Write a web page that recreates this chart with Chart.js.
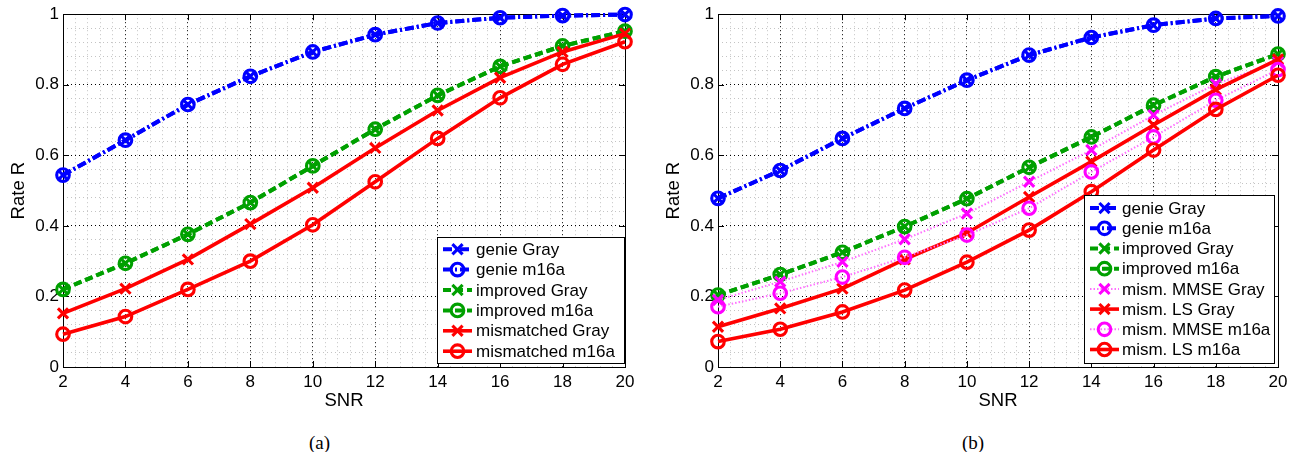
<!DOCTYPE html>
<html>
<head>
<meta charset="utf-8">
<script src="https://cdn.jsdelivr.net/npm/chart.js@4.4.0/dist/chart.umd.min.js"></script>
<style>
    body { margin: 0; background: #fff; width: 1294px; height: 452px; position: relative; overflow: hidden; }
    canvas { position: absolute; top: 0; }
    #chartA { left: 0; }
    #chartB { left: 655px; }
    .cap { position: absolute; top: 433px; font-family: "Liberation Serif", "Times New Roman", serif; font-size: 19px; line-height: 1; }
</style>
</head>
<body>
<canvas id="chartA" width="647" height="420"></canvas>
<canvas id="chartB" width="639" height="420"></canvas>
<div class="cap" style="left:309px">(a)</div>
<div class="cap" style="left:962px">(b)</div>

<script>
// ---- data ----
var snr = [2, 4, 6, 8, 10, 12, 14, 16, 18, 20];
var xTicks = [2, 4, 6, 8, 10, 12, 14, 16, 18, 20];
var xTickLabels = ["2", "4", "6", "8", "10", "12", "14", "16", "18", "20"];
var yTicks = [0, 0.2, 0.4, 0.6, 0.8, 1];
var yTickLabels = ["0", "0.2", "0.4", "0.6", "0.8", "1"];

// (a)
var genieGrayA = [0.544, 0.643, 0.744, 0.824, 0.893, 0.942, 0.975, 0.990, 0.996, 0.999];
var genieM16aA = [0.544, 0.643, 0.744, 0.824, 0.893, 0.942, 0.975, 0.990, 0.996, 0.999];
var improvedGrayA = [0.220, 0.294, 0.376, 0.466, 0.570, 0.674, 0.770, 0.852, 0.910, 0.952];
var improvedM16aA = [0.220, 0.294, 0.376, 0.466, 0.570, 0.674, 0.770, 0.852, 0.910, 0.952];
var mismatchedGrayA = [0.152, 0.222, 0.305, 0.405, 0.508, 0.621, 0.727, 0.820, 0.893, 0.945];
var mismatchedM16aA = [0.093, 0.143, 0.220, 0.300, 0.403, 0.525, 0.648, 0.763, 0.858, 0.922];

// (b)
var genieGrayB = [0.478, 0.557, 0.648, 0.733, 0.813, 0.884, 0.934, 0.969, 0.988, 0.995];
var genieM16aB = [0.478, 0.557, 0.648, 0.733, 0.813, 0.884, 0.934, 0.969, 0.988, 0.995];
var improvedGrayB = [0.204, 0.262, 0.325, 0.398, 0.477, 0.566, 0.652, 0.742, 0.823, 0.887];
var improvedM16aB = [0.204, 0.262, 0.325, 0.398, 0.477, 0.566, 0.652, 0.742, 0.823, 0.887];
var mmseGrayB = [0.190, 0.242, 0.298, 0.362, 0.435, 0.525, 0.615, 0.714, 0.802, 0.865];
var lsGrayB = [0.114, 0.166, 0.222, 0.305, 0.380, 0.482, 0.582, 0.686, 0.786, 0.872];
var mmseM16aB = [0.171, 0.209, 0.255, 0.311, 0.374, 0.450, 0.553, 0.652, 0.756, 0.843];
var lsM16aB = [0.072, 0.107, 0.156, 0.218, 0.297, 0.388, 0.497, 0.615, 0.730, 0.827];

var FONT = '"Liberation Sans", Arial, Helvetica, sans-serif';
Chart.defaults.font.family = FONT;
Chart.defaults.color = "#000";

// line styles (matlab-ish)
var BLUE = "#0000ff", GREEN = "#00a000", RED = "#ff0000", MAGENTA = "#ff00ff";
var styles = {
    genie:    { color: BLUE, line: BLUE, width: 4, dash: [9, 3, 2, 3] },
    improved: { color: GREEN, line: GREEN, width: 4, dash: [8, 4] },
    mism:     { color: RED, line: RED, width: 3.6, dash: [] },
    mmse:     { color: MAGENTA, line: "#ff70ff", width: 2, dash: [1.5, 2] }
};

function isAt(list, v) {
    for (var i = 0; i < list.length; i++) {
        if (Math.abs(list[i] - v) < 1e-6) return i;
    }
    return -1;
}

function makeSet(label, values, style, marker, i) {
    return {
        label: label,
        data: snr.map(function(x, k) { return { x: x, y: values[k] }; }),
        borderColor: style.line,
        borderWidth: style.width,
        borderDash: style.dash,
        pointStyle: marker === "o" ? "circle" : "crossRot",
        pointRadius: marker === "o" ? 6.3 : 7.2,
        pointBorderWidth: 3.1,
        pointBorderColor: style.color,
        pointBackgroundColor: "rgba(0,0,0,0)",
        markerColor: style.color,
        fill: false,
        tension: 0,
        clip: false,
        order: -i
    };
}

function drawMarker(ctx, ds, x, y) {
    var r = ds.pointRadius;
    ctx.save();
    ctx.setLineDash([]);
    ctx.strokeStyle = ds.markerColor;
    ctx.lineWidth = ds.pointBorderWidth;
    ctx.beginPath();
    if (ds.pointStyle === "circle") {
        ctx.arc(x, y, r, 0, Math.PI * 2);
    } else {
        var d = r * Math.SQRT1_2;
        ctx.moveTo(x - d, y - d); ctx.lineTo(x + d, y + d);
        ctx.moveTo(x + d, y - d); ctx.lineTo(x - d, y + d);
    }
    ctx.stroke();
    ctx.restore();
}

// box round the axes with inward ticks
var framePlugin = {
    id: "frame",
    beforeDatasetsDraw: function(chart) {
        var ctx = chart.ctx, a = chart.chartArea;
        var xs = chart.scales.x, ys = chart.scales.y;
        ctx.save();
        ctx.strokeStyle = "#000";
        ctx.lineWidth = 1;
        ctx.strokeRect(Math.round(a.left) + 0.5, Math.round(a.top) + 0.5,
            Math.round(a.right - a.left), Math.round(a.bottom - a.top));
        ctx.beginPath();
        xTicks.forEach(function(v) {
            var px = Math.round(xs.getPixelForValue(v)) + 0.5;
            ctx.moveTo(px, a.bottom); ctx.lineTo(px, a.bottom - 6);
            ctx.moveTo(px, a.top); ctx.lineTo(px, a.top + 6);
        });
        yTicks.forEach(function(v) {
            var py = Math.round(ys.getPixelForValue(v)) + 0.5;
            ctx.moveTo(a.left, py); ctx.lineTo(a.left + 6, py);
            ctx.moveTo(a.right, py); ctx.lineTo(a.right - 6, py);
        });
        ctx.stroke();
        ctx.restore();
    }
};

// legend inside the plot, bottom right
var insetLegend = {
    id: "insetLegend",
    afterDraw: function(chart, args, opts) {
        var ctx = chart.ctx, a = chart.chartArea;
        var sets = chart.data.datasets;
        ctx.save();
        ctx.font = opts.fontSize + "px " + FONT;
        var maxW = 0;
        sets.forEach(function(ds) { maxW = Math.max(maxW, ctx.measureText(ds.label).width); });
        var w = Math.round(opts.padLeft + opts.sample + opts.gap + maxW + opts.padRight);
        var h = Math.round(sets.length * opts.rowHeight + 2 * opts.padY);
        var x0 = Math.round(a.right - opts.right - w);
        var y0 = Math.round(a.bottom - opts.bottom - h);
        ctx.fillStyle = "#fff";
        ctx.fillRect(x0, y0, w, h);
        ctx.strokeStyle = "#000";
        ctx.lineWidth = 1;
        ctx.strokeRect(x0 + 0.5, y0 + 0.5, w, h);
        sets.forEach(function(ds, i) {
            var cy = y0 + opts.padY + opts.rowHeight * (i + 0.5);
            var sx = x0 + opts.padLeft;
            ctx.setLineDash(ds.borderDash || []);
            ctx.strokeStyle = ds.borderColor;
            ctx.lineWidth = ds.borderWidth;
            ctx.beginPath();
            ctx.moveTo(sx, cy);
            ctx.lineTo(sx + opts.sample, cy);
            ctx.stroke();
            ctx.setLineDash([]);
            drawMarker(ctx, ds, sx + opts.sample / 2, cy);
            ctx.fillStyle = "#000";
            ctx.textAlign = "left";
            ctx.textBaseline = "middle";
            ctx.fillText(ds.label, sx + opts.sample + opts.gap, cy + 1);
        });
        ctx.restore();
    }
};

function gridColor(list) {
    return function(c) { return isAt(list, c.tick.value) >= 0 ? "#000" : "#c4c4c4"; };
}

function makeChart(id, datasets, rightPad, legendOpts) {
    return new Chart(document.getElementById(id), {
        type: "line",
        data: { datasets: datasets },
        options: {
            responsive: false,
            animation: false,
            devicePixelRatio: 1,
            layout: { padding: { top: 14, right: rightPad, left: 0, bottom: 0 } },
            plugins: {
                legend: { display: false },
                tooltip: { enabled: false },
                insetLegend: legendOpts
            },
            scales: {
                x: {
                    type: "linear",
                    min: 2,
                    max: 20,
                    afterFit: function(s) { s.height = 53; },
                    ticks: {
                        stepSize: 0.4,
                        maxTicksLimit: 100,
                        autoSkip: false,
                        maxRotation: 0,
                        padding: 5,
                        font: { size: 17 },
                        callback: function(v) {
                            var k = isAt(xTicks, v);
                            return k >= 0 ? xTickLabels[k] : "";
                        }
                    },
                    grid: { color: gridColor(xTicks), lineWidth: 1, drawTicks: false },
                    border: { display: false, dash: [1, 3] },
                    title: { display: true, text: "SNR", font: { size: 18.5 }, padding: { top: 0, bottom: 8.4 } }
                },
                y: {
                    min: 0,
                    max: 1,
                    afterFit: function(s) { s.width = 63; },
                    ticks: {
                        stepSize: 0.04,
                        maxTicksLimit: 100,
                        autoSkip: false,
                        padding: 4,
                        font: { size: 17 },
                        callback: function(v) {
                            var k = isAt(yTicks, v);
                            return k >= 0 ? yTickLabels[k] : "";
                        }
                    },
                    grid: { color: gridColor(yTicks), lineWidth: 1, drawTicks: false },
                    border: { display: false, dash: [1, 3] },
                    title: { display: true, text: "Rate R", font: { size: 18.5 }, padding: { top: 7.5, bottom: 0 } }
                }
            }
        },
        plugins: [framePlugin, insetLegend]
    });
}

var setsA = [
    makeSet("genie Gray", genieGrayA, styles.genie, "x", 0),
    makeSet("genie m16a", genieM16aA, styles.genie, "o", 1),
    makeSet("improved Gray", improvedGrayA, styles.improved, "x", 2),
    makeSet("improved m16a", improvedM16aA, styles.improved, "o", 3),
    makeSet("mismatched Gray", mismatchedGrayA, styles.mism, "x", 4),
    makeSet("mismatched m16a", mismatchedM16aA, styles.mism, "o", 5)
];

var setsB = [
    makeSet("genie Gray", genieGrayB, styles.genie, "x", 0),
    makeSet("genie m16a", genieM16aB, styles.genie, "o", 1),
    makeSet("improved Gray", improvedGrayB, styles.improved, "x", 2),
    makeSet("improved m16a", improvedM16aB, styles.improved, "o", 3),
    makeSet("mism. MMSE Gray", mmseGrayB, styles.mmse, "x", 4),
    makeSet("mism. LS Gray", lsGrayB, styles.mism, "x", 5),
    makeSet("mism. MMSE m16a", mmseM16aB, styles.mmse, "o", 6),
    makeSet("mism. LS m16a", lsM16aB, styles.mism, "o", 7)
];

makeChart("chartA", setsA, 22, { fontSize: 17, rowHeight: 20.4, padY: 2, padLeft: 6, sample: 29, gap: 4, padRight: 9, right: 1, bottom: 4 });
makeChart("chartB", setsB, 16, { fontSize: 17, rowHeight: 20.2, padY: 3, padLeft: 6, sample: 29, gap: 3, padRight: 4, right: 4, bottom: 4 });
</script>
</body>
</html>
